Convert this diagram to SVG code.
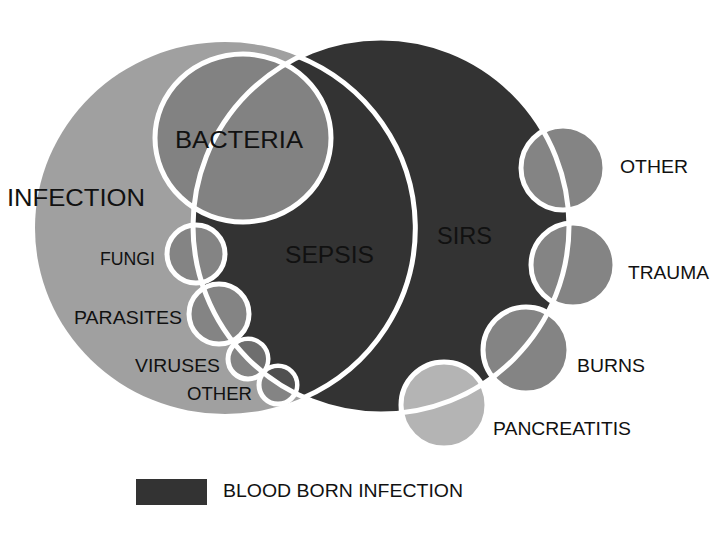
<svg xmlns="http://www.w3.org/2000/svg" width="720" height="540" viewBox="0 0 720 540">
<style>
  text { font-family: "Liberation Sans", Arial, sans-serif; fill: #111; }
  .big { font-size: 24px; }
  .small { font-size: 18px; }
  .ring { stroke: #fff; stroke-width: 5; }
  .line { fill: none; stroke: #fff; stroke-width: 5; }
  .mid { fill: #848484; }
</style>
<defs>
  <clipPath id="sirsClip"><circle cx="381" cy="226" r="188"/></clipPath>
</defs>
<rect width="720" height="540" fill="#fff"/>

<g id="infection">
  <ellipse cx="225" cy="228" rx="190" ry="186" fill="#a0a0a0"/>
  <text class="big" x="7" y="206" textLength="138" lengthAdjust="spacingAndGlyphs">INFECTION</text>
</g>

<g id="sirs">
  <circle cx="381" cy="226" r="188" fill="#333"/>
  <text class="big" x="437" y="244" textLength="55" lengthAdjust="spacingAndGlyphs">SIRS</text>
</g>

<g id="bacteria">
  <ellipse class="ring" cx="243" cy="138" rx="88" ry="84" fill="#828282"/>
</g>

<g id="fungi">
  <circle class="ring mid" cx="196" cy="254" r="29"/>
  <text class="small" x="100" y="265" textLength="55" lengthAdjust="spacingAndGlyphs">FUNGI</text>
</g>

<g id="parasites">
  <circle class="ring mid" cx="219" cy="314" r="30"/>
  <text class="small" x="74" y="324" textLength="108" lengthAdjust="spacingAndGlyphs">PARASITES</text>
</g>

<g id="viruses">
  <circle class="ring mid" cx="248" cy="359" r="20"/>
  <circle cx="248" cy="359" r="18" fill="#6e6e6e" clip-path="url(#sirsClip)"/>
  <text class="small" x="135" y="372" textLength="85" lengthAdjust="spacingAndGlyphs">VIRUSES</text>
</g>

<g id="other-left">
  <circle class="ring mid" cx="278" cy="385" r="19"/>
  <circle cx="278" cy="385" r="17" fill="#505050" clip-path="url(#sirsClip)"/>
  <text class="small" x="187" y="400" textLength="65" lengthAdjust="spacingAndGlyphs">OTHER</text>
</g>

<g id="other-right">
  <circle class="ring mid" cx="563" cy="168" r="42"/>
  <text class="small" x="620" y="173" textLength="68" lengthAdjust="spacingAndGlyphs">OTHER</text>
</g>

<g id="trauma">
  <circle class="ring mid" cx="573" cy="265" r="42"/>
  <text class="small" x="628" y="279" textLength="81" lengthAdjust="spacingAndGlyphs">TRAUMA</text>
</g>

<g id="burns">
  <circle class="ring mid" cx="526" cy="350" r="43"/>
  <text class="small" x="577" y="372" textLength="68" lengthAdjust="spacingAndGlyphs">BURNS</text>
</g>

<g id="pancreatitis">
  <circle class="ring" cx="444" cy="405" r="43" fill="#b4b4b4"/>
  <text class="small" x="493" y="435" textLength="138" lengthAdjust="spacingAndGlyphs">PANCREATITIS</text>
</g>

<g id="connectors">
  <circle class="line" cx="381" cy="226" r="188"/>
  <path class="line" d="M297,56 A190,186 0 0 1 303,398"/>
</g>

<g id="bacteria-label">
  <text class="big" x="175" y="148" textLength="128" lengthAdjust="spacingAndGlyphs">BACTERIA</text>
</g>

<g id="sepsis">
  <text class="big" x="285" y="263" textLength="89" lengthAdjust="spacingAndGlyphs">SEPSIS</text>
</g>

<g id="legend">
  <rect x="136" y="479" width="71" height="26" fill="#333"/>
  <text x="223" y="497" font-size="18" textLength="240" lengthAdjust="spacingAndGlyphs">BLOOD BORN INFECTION</text>
</g>
</svg>
